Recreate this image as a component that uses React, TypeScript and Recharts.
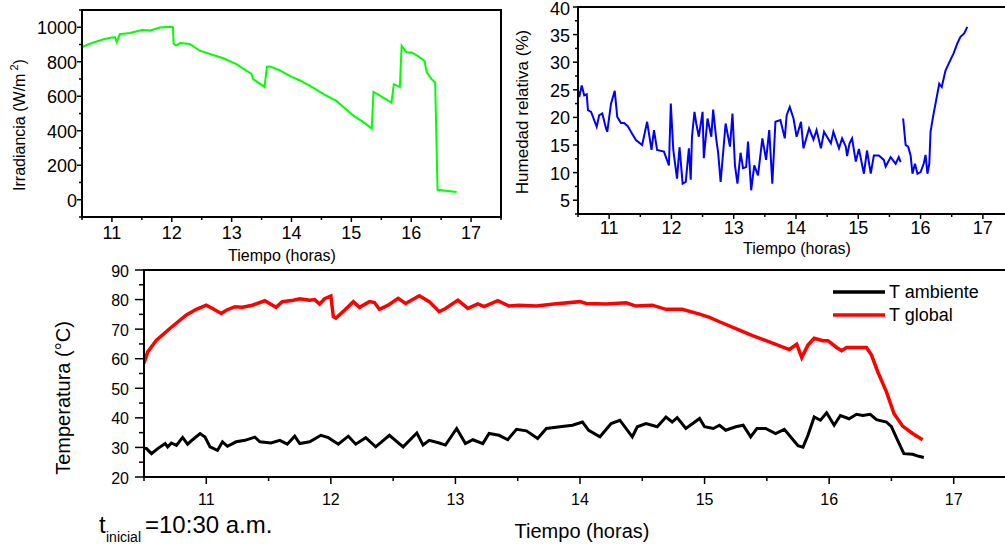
import React from 'react';
import { LineChart, Line, XAxis, YAxis, ReferenceArea } from 'recharts';

// ---------- Irradiance (top-left) ----------
const irrHours = [10.5, 10.6, 10.69, 10.86, 11.0, 11.05, 11.08, 11.13, 11.3, 11.5, 11.64, 11.8, 11.99, 12.02, 12.03, 12.05, 12.08, 12.14, 12.3, 12.47, 12.69, 12.86, 13.08, 13.25, 13.33, 13.36, 13.55, 13.59, 13.64, 13.8, 13.97, 14.15, 14.36, 14.55, 14.75, 15.03, 15.2, 15.34, 15.37, 15.45, 15.67, 15.71, 15.81, 15.84, 15.92, 16.01, 16.12, 16.22, 16.26, 16.34, 16.4, 16.44, 16.76];
const irrValues = [885, 900, 912, 930, 940, 942, 915, 960, 967, 984, 981, 998, 1003, 1000, 905, 898, 895, 908, 903, 864, 839, 820, 786, 747, 730, 699, 654, 771, 773, 751, 718, 690, 650, 610, 573, 489, 450, 413, 625, 610, 563, 670, 654, 893, 855, 854, 831, 806, 738, 699, 680, 58, 45];

// ---------- Relative humidity (top-right) ----------
const humHours = [10.5, 10.52, 10.56, 10.6, 10.64, 10.66, 10.71, 10.73, 10.8, 10.84, 10.89, 10.95, 10.97, 11.03, 11.09, 11.13, 11.19, 11.24, 11.3, 11.35, 11.43, 11.53, 11.61, 11.68, 11.72, 11.77, 11.88, 11.96, 11.99, 12.03, 12.09, 12.13, 12.18, 12.23, 12.28, 12.31, 12.33, 12.37, 12.4, 12.44, 12.5, 12.52, 12.58, 12.64, 12.67, 12.72, 12.75, 12.79, 12.87, 12.94, 12.98, 13.02, 13.06, 13.11, 13.15, 13.2, 13.23, 13.28, 13.33, 13.39, 13.46, 13.52, 13.57, 13.62, 13.67, 13.75, 13.82, 13.85, 13.9, 13.96, 14.01, 14.08, 14.12, 14.21, 14.28, 14.33, 14.4, 14.45, 14.56, 14.6, 14.69, 14.74, 14.8, 14.82, 14.86, 14.9, 14.96, 15.01, 15.09, 15.14, 15.2, 15.25, 15.33, 15.41, 15.44, 15.52, 15.6, 15.65, 15.68, 15.7, 15.72, 15.76, 15.8, 15.84, 15.87, 15.91, 15.95, 16.0, 16.05, 16.08, 16.11, 16.14, 16.16, 16.2, 16.25, 16.3, 16.34, 16.4, 16.45, 16.53, 16.59, 16.64, 16.7, 16.75];
const humValues: (number | null)[] = [24.9, 23.7, 25.8, 24.0, 24.2, 21.3, 21.0, 20.4, 18.3, 20.4, 20.7, 18.0, 17.4, 22.5, 24.8, 20.1, 19.0, 19.0, 18.4, 17.4, 15.9, 15.0, 19.2, 14.1, 17.7, 14.1, 13.8, 11.3, 22.5, 14.1, 8.9, 14.6, 8.0, 8.3, 14.4, 8.7, 16.5, 21.0, 18.8, 16.5, 21.0, 12.6, 19.8, 16.5, 21.4, 16.0, 13.6, 8.3, 18.9, 14.7, 20.7, 11.3, 8.0, 13.6, 10.8, 11.0, 15.6, 6.8, 11.3, 9.5, 16.2, 12.3, 17.7, 8.0, 19.2, 19.5, 16.2, 20.4, 21.9, 19.8, 16.5, 19.2, 14.4, 18.0, 16.0, 17.7, 14.4, 17.4, 15.3, 17.4, 14.4, 16.2, 14.7, 13.0, 15.3, 16.2, 12.0, 14.3, 9.8, 14.0, 9.8, 13.1, 13.1, 12.3, 11.1, 12.8, 11.6, 12.8, 11.9, null, 19.8, 15.0, 14.7, 13.1, 9.8, 11.6, 9.8, 10.1, 11.6, 13.2, 9.8, 11.6, 17.4, 20.1, 23.1, 26.1, 25.5, 28.5, 29.7, 31.6, 33.4, 34.6, 35.2, 36.4];

// ---------- Temperatures (bottom) ----------
const seriesNames = ['T ambiente', 'T global'];
const seriesColors = ['#000000', '#ff0000'];

const tAmbHours = [10.5, 10.52, 10.56, 10.61, 10.67, 10.69, 10.72, 10.76, 10.81, 10.85, 10.89, 10.95, 10.99, 11.03, 11.09, 11.13, 11.17, 11.24, 11.31, 11.39, 11.43, 11.52, 11.59, 11.65, 11.71, 11.75, 11.83, 11.92, 11.98, 12.06, 12.14, 12.2, 12.28, 12.36, 12.47, 12.58, 12.69, 12.74, 12.79, 12.87, 12.92, 13.01, 13.08, 13.14, 13.22, 13.27, 13.35, 13.42, 13.49, 13.57, 13.66, 13.73, 13.84, 13.94, 14.02, 14.07, 14.16, 14.25, 14.32, 14.42, 14.46, 14.53, 14.62, 14.69, 14.74, 14.78, 14.85, 14.96, 15.0, 15.07, 15.12, 15.17, 15.25, 15.31, 15.37, 15.42, 15.49, 15.57, 15.64, 15.69, 15.75, 15.79, 15.83, 15.88, 15.93, 15.98, 16.04, 16.09, 16.16, 16.22, 16.27, 16.33, 16.38, 16.46, 16.5, 16.55, 16.6, 16.67, 16.72, 16.76];
const tAmbValues = [29.6, 29.6, 27.9, 29.6, 31.3, 30.2, 31.5, 30.7, 33.4, 31.1, 32.6, 34.7, 33.5, 30.2, 29.0, 31.9, 30.4, 31.9, 32.4, 33.5, 31.9, 31.5, 32.4, 31.1, 33.8, 31.3, 31.9, 34.1, 33.3, 31.1, 33.8, 31.1, 33.3, 30.2, 34.1, 30.2, 34.9, 30.8, 32.4, 31.5, 30.8, 36.4, 31.3, 32.6, 31.3, 34.7, 34.1, 32.6, 36.1, 35.6, 33.0, 36.4, 37.0, 37.5, 38.6, 35.8, 33.6, 38.1, 39.2, 33.6, 37.0, 38.1, 37.0, 40.3, 38.6, 40.1, 36.4, 39.8, 37.0, 36.4, 37.5, 35.8, 37.0, 37.5, 33.6, 36.4, 36.4, 34.7, 36.1, 33.6, 30.6, 30.1, 34.1, 40.3, 39.2, 41.7, 37.5, 40.8, 39.7, 41.2, 40.8, 41.2, 39.4, 38.6, 37.0, 32.4, 27.9, 27.7, 27.0, 26.6];

const tGlobHours = [10.5, 10.53, 10.6, 10.71, 10.84, 10.92, 11.0, 11.05, 11.12, 11.16, 11.23, 11.29, 11.37, 11.47, 11.56, 11.61, 11.7, 11.75, 11.83, 11.87, 11.91, 11.95, 12.0, 12.02, 12.04, 12.1, 12.18, 12.23, 12.31, 12.35, 12.39, 12.46, 12.54, 12.6, 12.71, 12.79, 12.87, 12.92, 13.02, 13.1, 13.18, 13.23, 13.34, 13.43, 13.51, 13.65, 13.79, 14.0, 14.05, 14.21, 14.37, 14.45, 14.58, 14.69, 14.82, 14.96, 15.04, 15.12, 15.28, 15.39, 15.52, 15.68, 15.74, 15.78, 15.83, 15.88, 15.95, 15.99, 16.06, 16.1, 16.14, 16.24, 16.3, 16.34, 16.39, 16.46, 16.52, 16.59, 16.67, 16.75];
const tGlobValues = [58.5, 62.3, 66.3, 70.3, 74.8, 76.7, 78.1, 77.0, 75.3, 76.4, 77.6, 77.4, 78.1, 79.6, 77.4, 79.3, 79.8, 80.3, 79.8, 80.0, 78.5, 80.3, 81.2, 74.2, 73.7, 76.0, 79.3, 77.4, 79.3, 79.0, 76.7, 78.1, 80.4, 78.7, 81.3, 79.3, 75.9, 77.0, 79.8, 77.0, 78.5, 77.6, 79.6, 77.8, 78.1, 77.8, 78.5, 79.3, 78.7, 78.5, 78.9, 77.8, 78.1, 76.7, 76.7, 75.1, 74.0, 72.5, 69.7, 67.7, 65.7, 63.1, 64.9, 60.4, 64.6, 66.9, 66.1, 66.1, 63.8, 62.7, 63.8, 63.8, 63.8, 61.2, 55.6, 48.8, 41.5, 37.2, 34.7, 32.6];

// Tick value lists
const hourTicks = [10.5, 11, 11.5, 12, 12.5, 13, 13.5, 14, 14.5, 15, 15.5, 16, 16.5, 17, 17.5];
const irrTicks = [-100, 0, 100, 200, 300, 400, 500, 600, 700, 800, 900, 1000, 1100];
const humTicks = [2.5, 5, 7.5, 10, 12.5, 15, 17.5, 20, 22.5, 25, 27.5, 30, 32.5, 35, 37.5, 40];
const tempTicks = [20, 25, 30, 35, 40, 45, 50, 55, 60, 65, 70, 75, 80, 85, 90];

const irrData = irrHours.map((h, i) => ({ h, v: irrValues[i] }));
const humData = humHours.map((h, i) => ({ h, v: humValues[i] }));
const tAmbData = tAmbHours.map((h, i) => ({ h, v: tAmbValues[i] }));
const tGlobData = tGlobHours.map((h, i) => ({ h, v: tGlobValues[i] }));

const FONT = '"Liberation Sans", Arial, sans-serif';

const isMult = (v: number, step: number) => Math.abs(v / step - Math.round(v / step)) < 1e-6;

const makeXTick = (fs: number, labelDy: number, majorLen: number, minorLen: number) => (props: any) => {
  const { x, y, payload } = props;
  const v = payload.value as number;
  const major = isMult(v, 1);
  const showLabel = major && v >= 11 && v <= 17;
  return (
    <g>
      <line x1={x} y1={y} x2={x} y2={y + (major ? majorLen : minorLen)} stroke="#000" strokeWidth={1.5} />
      {showLabel && (
        <text x={x} y={y + labelDy} textAnchor="middle" dominantBaseline="central" fontSize={fs} fontFamily={FONT} fill="#000">
          {String(v)}
        </text>
      )}
    </g>
  );
};

const makeYTick = (fs: number, labelDx: number, majorStep: number, lo: number, hi: number, majorLen: number, minorLen: number, topNudge = 0) => (props: any) => {
  const { x, y, payload } = props;
  const v = payload.value as number;
  const major = isMult(v, majorStep);
  const showLabel = major && v >= lo && v <= hi;
  const dy = v === hi ? topNudge : 0;
  return (
    <g>
      <line x1={x} y1={y} x2={x - (major ? majorLen : minorLen)} y2={y} stroke="#000" strokeWidth={1.5} />
      {showLabel && (
        <text x={x - labelDx} y={y + 1 + dy} textAnchor="end" dominantBaseline="central" fontSize={fs} fontFamily={FONT} fill="#000">
          {String(v)}
        </text>
      )}
    </g>
  );
};

const axisLine = { stroke: '#000', strokeWidth: 2 };

export default function App() {
  return (
    <div style={{ position: 'fixed', left: 0, top: 0, width: 1005, height: 546, overflow: 'hidden', background: '#fff', fontFamily: FONT }}>
      {/* Irradiance */}
      <div style={{ position: 'absolute', left: 0, top: 0 }}>
        <LineChart width={520} height={270} margin={{ top: 10, right: 19, left: 0, bottom: 0 }}>
          <XAxis dataKey="h" type="number" domain={[10.5, 17.5]} ticks={hourTicks} interval={0} allowDataOverflow
            height={53} tickSize={0} tickMargin={0} axisLine={axisLine} tickLine={false} tick={makeXTick(18, 16, 5, 3)} />
          <YAxis type="number" domain={[-100, 1100]} ticks={irrTicks} interval={0} allowDataOverflow
            width={82} tickSize={0} tickMargin={0} axisLine={axisLine} tickLine={false} tick={makeYTick(18, 5, 200, 0, 1000, 5, 3)} />
          <ReferenceArea x1={10.5} x2={17.5} y1={-100} y2={1100} fill="none" stroke="#000" strokeWidth={2} ifOverflow="visible" />
          <Line data={irrData} dataKey="v" type="linear" stroke="#00ff00" strokeWidth={2} dot={false} isAnimationActive={false} />
        </LineChart>
      </div>

      {/* Humidity */}
      <div style={{ position: 'absolute', left: 500, top: 0 }}>
        <LineChart width={514} height={270} margin={{ top: 7, right: 0, left: 0, bottom: 0 }}>
          <XAxis dataKey="h" type="number" domain={[10.5, 17.5]} ticks={hourTicks} interval={0} allowDataOverflow
            height={56} tickSize={0} tickMargin={0} axisLine={axisLine} tickLine={false} tick={makeXTick(18, 14, 5, 3)} />
          <YAxis type="number" domain={[2.5, 40]} ticks={humTicks} interval={0} allowDataOverflow
            width={78} tickSize={0} tickMargin={0} axisLine={axisLine} tickLine={false} tick={makeYTick(18, 8, 5, 5, 40, 5, 3, 1)} />
          <ReferenceArea x1={10.5} x2={17.5} y1={2.5} y2={40} fill="none" stroke="#000" strokeWidth={2} ifOverflow="visible" />
          <Line data={humData} dataKey="v" type="linear" stroke="#0000ff" strokeWidth={2} dot={false} isAnimationActive={false} />
        </LineChart>
      </div>

      {/* Temperatures */}
      <div style={{ position: 'absolute', left: 0, top: 255 }}>
        <LineChart width={1016} height={290} margin={{ top: 15, right: 0, left: 0, bottom: 0 }}>
          <XAxis dataKey="h" type="number" domain={[10.5, 17.5]} ticks={hourTicks} interval={0} allowDataOverflow
            height={68} tickSize={0} tickMargin={0} axisLine={axisLine} tickLine={false} tick={makeXTick(16, 22, 7, 4)} />
          <YAxis type="number" domain={[20, 90]} ticks={tempTicks} interval={0} allowDataOverflow
            width={144} tickSize={0} tickMargin={0} axisLine={axisLine} tickLine={false} tick={makeYTick(16, 15, 10, 20, 90, 9, 5)} />
          <ReferenceArea x1={10.5} x2={17.5} y1={20} y2={90} fill="none" stroke="#000" strokeWidth={2} ifOverflow="visible" />
          <Line data={tAmbData} dataKey="v" name={seriesNames[0]} type="linear" stroke={seriesColors[0]} strokeWidth={3} dot={false} isAnimationActive={false} />
          <Line data={tGlobData} dataKey="v" name={seriesNames[1]} type="linear" stroke={seriesColors[1]} strokeWidth={3.5} dot={false} isAnimationActive={false} />
        </LineChart>
      </div>

      {/* Titles, legend and notes */}
      <svg width={1005} height={546} style={{ position: 'absolute', left: 0, top: 0, pointerEvents: 'none' }} fontFamily={FONT}>
        <text transform="translate(25,125) rotate(-90)" textAnchor="middle" fontSize={16} fill="#000">
          Irradiancia (W/m<tspan dy={-7} fontSize={11}> 2</tspan><tspan dy={7} fontSize={16}>)</tspan>
        </text>
        <text x={282} y={261} textAnchor="middle" fontSize={16} fill="#000">Tiempo (horas)</text>

        <text transform="translate(528,112) rotate(-90)" textAnchor="middle" fontSize={17} fill="#000">Humedad relativa (%)</text>
        <text x={797} y={254} textAnchor="middle" fontSize={16} fill="#000">Tiempo (horas)</text>

        <text transform="translate(70,398) rotate(-90)" textAnchor="middle" fontSize={20} fill="#000">Temperatura (°C)</text>
        <text x={582} y={538} textAnchor="middle" fontSize={20} fill="#000">Tiempo (horas)</text>

        <text x={99} y={533} fontSize={24} fill="#000">t</text>
        <text x={106} y={542} fontSize={14} fill="#000">inicial</text>
        <text x={145} y={533} fontSize={24} fill="#000">=10:30 a.m.</text>

        {seriesNames.map((name, i) => (
          <g key={name}>
            <line x1={833} x2={885} y1={292 + i * 23} y2={292 + i * 23} stroke={seriesColors[i]} strokeWidth={3.5} />
            <text x={889} y={292 + i * 23} dominantBaseline="central" fontSize={18} fill="#000">{name}</text>
          </g>
        ))}
      </svg>
    </div>
  );
}
